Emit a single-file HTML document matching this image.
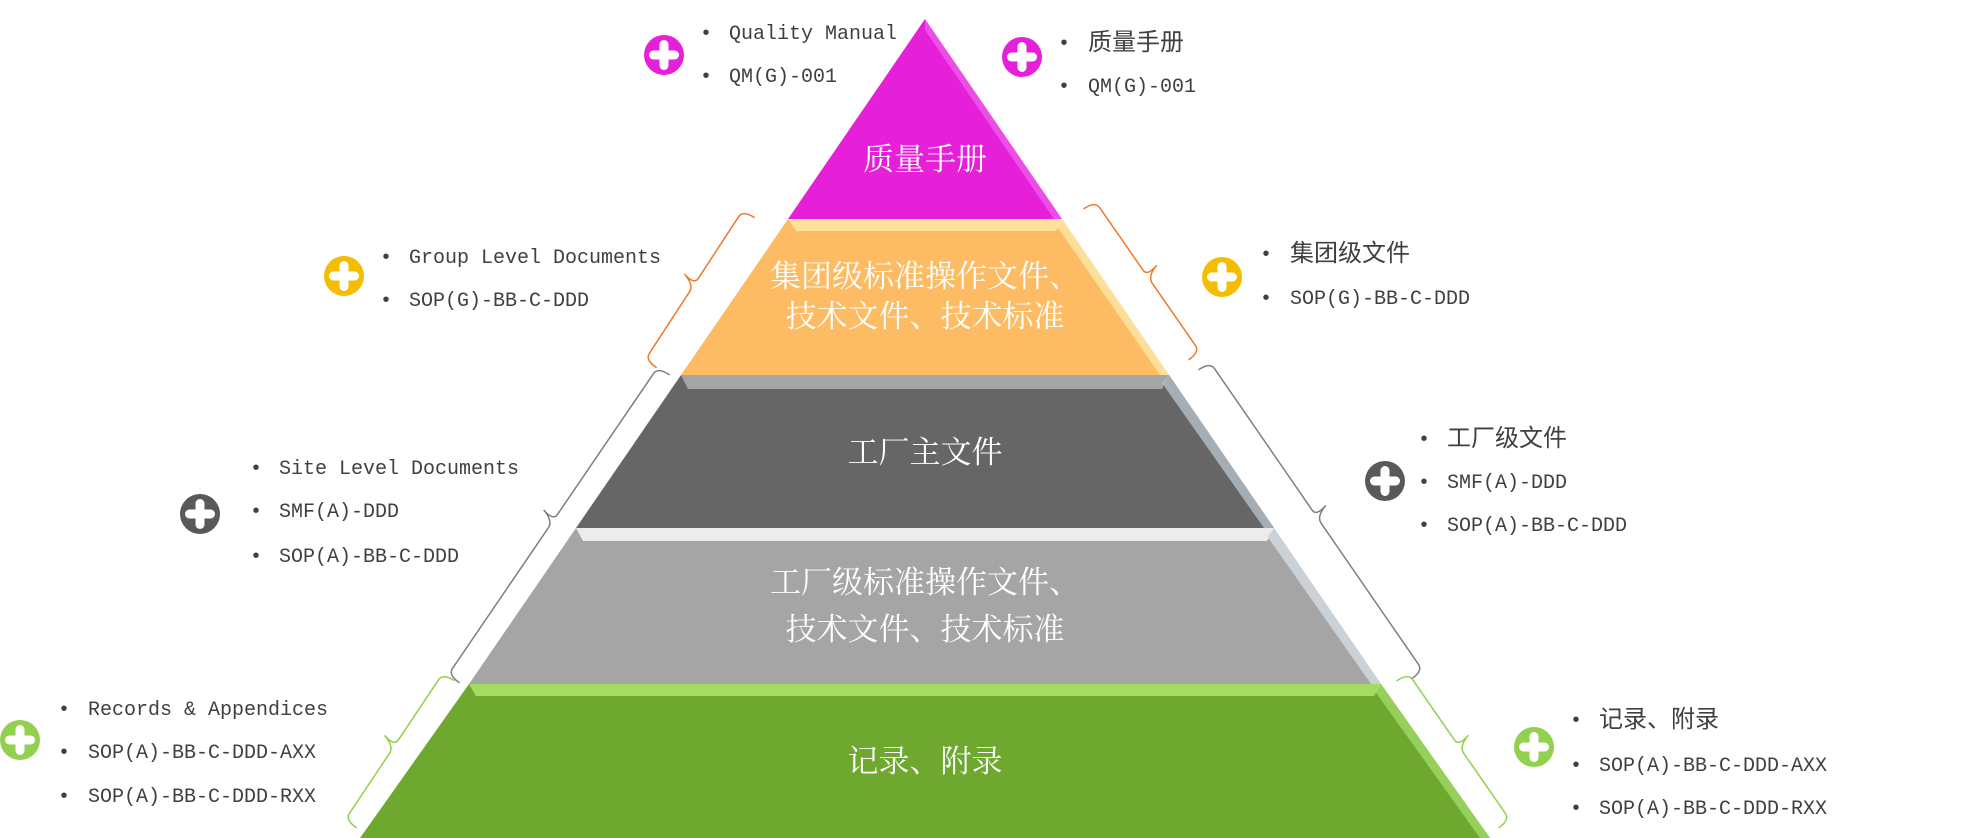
<!DOCTYPE html>
<html><head><meta charset="utf-8">
<style>
html,body{margin:0;padding:0;background:#fff;}
svg{display:block;}
.t{font-family:"Liberation Mono","Noto Sans CJK SC",monospace;font-size:20px;fill:#404040;}
.c{font-family:"Liberation Mono","Noto Sans CJK SC",sans-serif;font-size:24px;fill:#404040;}
.b{font-family:"Liberation Serif","Noto Serif CJK SC",serif;font-size:31px;fill:#fff;text-anchor:middle;}
</style></head><body>
<svg id="s" width="1986" height="838" viewBox="0 0 1986 838" xmlns="http://www.w3.org/2000/svg">
<polygon points="925,19 1062,219 788,219" fill="#e620d8"/>
<polygon points="925,19 1062,219 1054,219 925,30" fill="#f070f0" opacity="0.6"/>
<polygon points="788,219 1062,219 1169,375 681,375" fill="#fdbb63"/>
<polygon points="788,219 1062,219 1056,231 796,231" fill="#fde39a"/>
<polygon points="1062,219 1169,375 1160,375 1056,225" fill="#fde9a8" opacity="0.8"/>
<polygon points="681,375 1169,375 1274,528 576,528" fill="#666666"/>
<polygon points="681,375 1169,375 1162,389 688,389" fill="#a6a6a6"/>
<polygon points="1169,375 1274,528 1264,528 1162,383" fill="#b4c0c8" opacity="0.8"/>
<polygon points="576,528 1274,528 1381,684 469,684" fill="#a5a5a5"/>
<polygon points="576,528 1274,528 1267,541 583,541" fill="#ececec"/>
<polygon points="1274,528 1381,684 1371,684 1267,536" fill="#d4dde4" opacity="0.8"/>
<polygon points="469,684 1381,684 1490,838 360,838" fill="#6fa82f"/>
<polygon points="469,684 1381,684 1374,696 476,696" fill="#a3dc5e"/>
<polygon points="1381,684 1490,838 1480,838 1374,690" fill="#a8e070" opacity="0.7"/>
<text class="b" x="925" y="170">质量手册</text>
<text class="b" x="925" y="287">集团级标准操作文件、</text>
<text class="b" x="925" y="327">技术文件、技术标准</text>
<text class="b" x="925" y="463">工厂主文件</text>
<text class="b" x="925" y="593">工厂级标准操作文件、</text>
<text class="b" x="925" y="640">技术文件、技术标准</text>
<text class="b" x="925" y="772">记录、附录</text>
<g id="br"></g>
<g id="ic"></g>
<g>
<text class="t" x="700" y="39">•</text><text class="t" x="729" y="39">Quality Manual</text>
<text class="t" x="700" y="82">•</text><text class="t" x="729" y="82">QM(G)-001</text>
<text class="t" x="1058" y="49">•</text><text class="c" x="1088" y="50">质量手册</text>
<text class="t" x="1058" y="92">•</text><text class="t" x="1088" y="92">QM(G)-001</text>
<text class="t" x="380" y="263">•</text><text class="t" x="409" y="263">Group Level Documents</text>
<text class="t" x="380" y="306">•</text><text class="t" x="409" y="306">SOP(G)-BB-C-DDD</text>
<text class="t" x="1260" y="260">•</text><text class="c" x="1290" y="261">集团级文件</text>
<text class="t" x="1260" y="304">•</text><text class="t" x="1290" y="304">SOP(G)-BB-C-DDD</text>
<text class="t" x="250" y="474">•</text><text class="t" x="279" y="474">Site Level Documents</text>
<text class="t" x="250" y="517">•</text><text class="t" x="279" y="517">SMF(A)-DDD</text>
<text class="t" x="250" y="562">•</text><text class="t" x="279" y="562">SOP(A)-BB-C-DDD</text>
<text class="t" x="1418" y="445">•</text><text class="c" x="1447" y="446">工厂级文件</text>
<text class="t" x="1418" y="488">•</text><text class="t" x="1447" y="488">SMF(A)-DDD</text>
<text class="t" x="1418" y="531">•</text><text class="t" x="1447" y="531">SOP(A)-BB-C-DDD</text>
<text class="t" x="58" y="715">•</text><text class="t" x="88" y="715">Records &amp; Appendices</text>
<text class="t" x="58" y="758">•</text><text class="t" x="88" y="758">SOP(A)-BB-C-DDD-AXX</text>
<text class="t" x="58" y="802">•</text><text class="t" x="88" y="802">SOP(A)-BB-C-DDD-RXX</text>
<text class="t" x="1570" y="726">•</text><text class="c" x="1599" y="727">记录、附录</text>
<text class="t" x="1570" y="771">•</text><text class="t" x="1599" y="771">SOP(A)-BB-C-DDD-AXX</text>
<text class="t" x="1570" y="814">•</text><text class="t" x="1599" y="814">SOP(A)-BB-C-DDD-RXX</text>
</g>
</svg>
<script>
(function(){
var NS="http://www.w3.org/2000/svg";
function brace(x1,y1,x2,y2,side,col){
  var dx=x2-x1,dy=y2-y1,L=Math.sqrt(dx*dx+dy*dy);dx/=L;dy/=L;
  var nx,ny; if(side<0){nx=-dy;ny=dx;}else{nx=dy;ny=-dx;}
  var mx=(x1+x2)/2,my=(y1+y2)/2;
  function p(x,y){return x.toFixed(1)+","+y.toFixed(1);}
  var d="M"+p(x1-14*nx,y1-14*ny)+" Q"+p(x1,y1)+" "+p(x1+8*dx,y1+8*dy)+
    " L"+p(mx-8*dx,my-8*dy)+" Q"+p(mx,my)+" "+p(mx+14*nx-4*dx,my+14*ny-4*dy)+
    " M"+p(mx+14*nx-4*dx,my+14*ny-4*dy)+" Q"+p(mx,my)+" "+p(mx+8*dx,my+8*dy)+
    " L"+p(x2-8*dx,y2-8*dy)+" Q"+p(x2,y2)+" "+p(x2-14*nx,y2-14*ny);
  var e=document.createElementNS(NS,"path");
  e.setAttribute("d",d);e.setAttribute("fill","none");e.setAttribute("stroke",col);e.setAttribute("stroke-width","1.5");
  document.getElementById("br").appendChild(e);
}
brace(743,210,645,360,-1,"#f0782a");
brace(1095,201,1200,352,1,"#f0782a");
brace(658,367,448,675,-1,"#7f7f7f");
brace(1210,362,1423,671,1,"#7f7f7f");
brace(443,673,345,820,-1,"#92d050");
brace(1408,673,1510,820,1,"#92d050");
function icon(cx,cy,col){
  var g=document.getElementById("ic");
  var c=document.createElementNS(NS,"circle");
  c.setAttribute("cx",cx);c.setAttribute("cy",cy);c.setAttribute("r",20);c.setAttribute("fill",col);g.appendChild(c);
  var r1=document.createElementNS(NS,"rect");
  r1.setAttribute("x",cx-4.5);r1.setAttribute("y",cy-15);r1.setAttribute("width",9);r1.setAttribute("height",30);r1.setAttribute("rx",4.5);r1.setAttribute("fill","#fff");g.appendChild(r1);
  var r2=document.createElementNS(NS,"rect");
  r2.setAttribute("x",cx-15);r2.setAttribute("y",cy-4.5);r2.setAttribute("width",30);r2.setAttribute("height",9);r2.setAttribute("ry",4.5);r2.setAttribute("fill","#fff");g.appendChild(r2);
}
icon(664,55,"#e620d8");
icon(1022,57,"#e620d8");
icon(344,276,"#f5bd00");
icon(1222,277,"#f5bd00");
icon(200,514,"#595959");
icon(1385,481,"#595959");
icon(20,740,"#92d050");
icon(1534,747,"#92d050");
})();
</script>
</body></html>
